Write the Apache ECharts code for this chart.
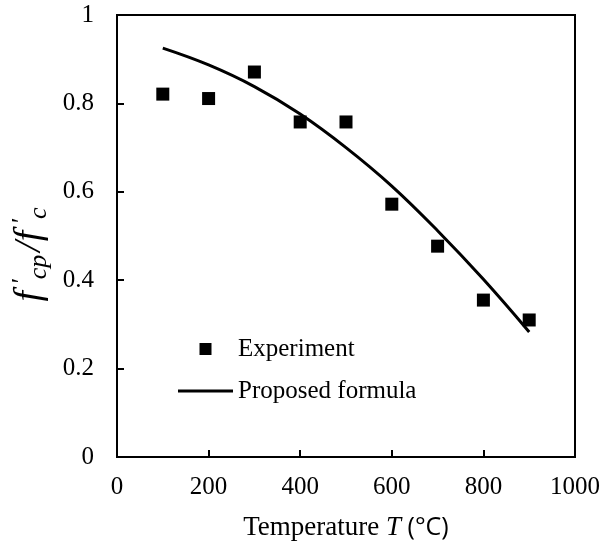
<!DOCTYPE html>
<html>
<head>
<meta charset="utf-8">
<script src="https://cdn.jsdelivr.net/npm/echarts@6/dist/echarts.min.js"></script>
<style>
html,body{margin:0;padding:0;background:#fff;}
#chart{width:603px;height:551px;}
</style>
</head>
<body>
<div id="chart"></div>
<script>
var expT = [100, 200, 300, 400, 500, 600, 700, 800, 900];
var expVal = [0.821, 0.811, 0.871, 0.758, 0.758, 0.572, 0.477, 0.355, 0.31];
var formulaT = [100, 200, 300, 400, 500, 600, 700, 800, 900];
var formulaVal = [0.925, 0.887, 0.838, 0.776, 0.700, 0.613, 0.512, 0.402, 0.283];
var xTicks = [0, 200, 400, 600, 800, 1000];
var yTicks = [0, 0.2, 0.4, 0.6, 0.8, 1];

var serif = '"Liberation Serif", "DejaVu Serif", serif';
var chart = echarts.init(document.getElementById('chart'));
chart.setOption({
  animation: false,
  backgroundColor: '#fff',
  grid: { left: 117, right: 28, top: 15, bottom: 94, outerBoundsMode: 'none', containLabel: false, show: true, borderColor: '#000', borderWidth: 2, backgroundColor: 'transparent' },
  xAxis: {
    type: 'value', min: xTicks[0], max: xTicks[xTicks.length - 1], interval: 200,
    splitLine: { show: false },
    axisLine: { lineStyle: { color: '#000', width: 2 } },
    axisTick: { inside: true, length: 7, lineStyle: { color: '#000', width: 2 } },
    axisLabel: { color: '#000', fontFamily: serif, fontSize: 25, margin: 18, formatter: function (v) { return String(v); } },
    name: '{a|Temperature }{i|T}{c| (°C)}',
    nameLocation: 'middle', nameGap: 57,
    nameTextStyle: {
      rich: {
        a: { fontFamily: serif, fontSize: 27, color: '#000' },
        i: { fontFamily: serif, fontSize: 27, fontStyle: 'italic', color: '#000' },
        c: { fontFamily: '"Open Sans", "Liberation Sans", sans-serif', fontSize: 25, color: '#000' }
      }
    }
  },
  yAxis: {
    type: 'value', min: yTicks[0], max: yTicks[yTicks.length - 1], interval: 0.2,
    splitLine: { show: false },
    axisLine: { lineStyle: { color: '#000', width: 2 } },
    axisTick: { inside: true, length: 7, lineStyle: { color: '#000', width: 2 } },
    axisLabel: { color: '#000', fontFamily: serif, fontSize: 25, margin: 23 },
    name: '{f|f}{p|\'}{s|cp}{f|/f}{p|\'}{s|c}',
    nameLocation: 'middle', nameGap: 61, nameRotate: 90,
    nameTextStyle: {
      padding: [0, 40, 0, 0],
      rich: {
        f: { fontFamily: serif, fontSize: 38, fontStyle: 'italic', color: '#000', padding: [0, 3, 0, 3] },
        p: { fontFamily: serif, fontSize: 26, fontStyle: 'italic', color: '#000', padding: [0, 0, 16, 3] },
        s: { fontFamily: serif, fontSize: 26, fontStyle: 'italic', color: '#000', padding: [18, 0, 0, 0] }
      }
    }
  },
  legend: {
    orient: 'vertical', left: 178, top: 336, padding: 0,
    itemWidth: 55, itemHeight: 12, itemGap: 16,
    textStyle: { fontFamily: serif, fontSize: 25, color: '#000', lineHeight: 26 },
    data: [
      { name: 'Experiment', icon: 'path://M0,0L10,0L10,10L0,10Z' },
      { name: 'Proposed formula', icon: 'path://M0,0L55,0L55,3L0,3Z' }
    ]
  },
  series: [
    {
      name: 'Experiment', type: 'scatter', symbol: 'rect', symbolSize: 13,
      itemStyle: { color: '#000', opacity: 1 },
      data: expT.map(function (t, i) { return [t, expVal[i]]; })
    },
    {
      name: 'Proposed formula', type: 'line', smooth: 0.4, showSymbol: false, symbol: 'none',
      lineStyle: { color: '#000', width: 3 }, itemStyle: { color: '#000' },
      data: formulaT.map(function (t, i) { return [t, formulaVal[i]]; })
    }
  ]
});
</script>
</body>
</html>
